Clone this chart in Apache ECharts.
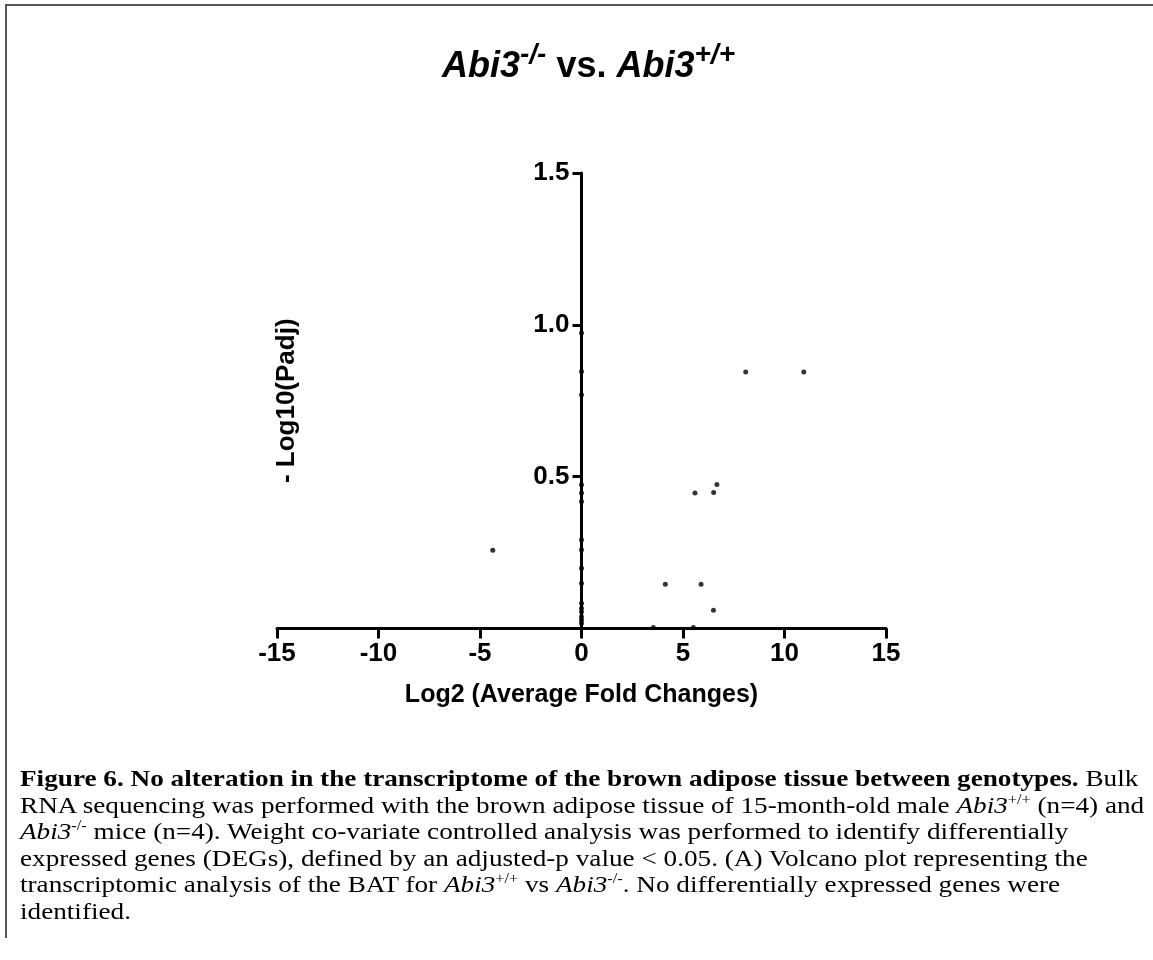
<!DOCTYPE html>
<html>
<head>
<meta charset="utf-8">
<title>Abi3 volcano plot</title>
<script src="https://cdn.jsdelivr.net/npm/echarts/dist/echarts.min.js"></script>
<style>
	html, body { margin: 0; padding: 0; background: #fff; }
	#page { position: relative; width: 1153px; height: 960px; }
	#chart { position: absolute; left: 0; top: 0; width: 1153px; height: 960px; }
	#frame {
		position: absolute; left: 5px; top: 4px; width: 1148px; height: 932px;
		border-top: 2px solid #555; border-left: 2px solid #555;
	}
	/* the caption in the figure is a little stretched sideways, so scale it to match */
	#caption {
		position: absolute; left: 20px; top: 765px;
		font-family: 'Liberation Serif', 'Times New Roman', serif;
		font-size: 24px; line-height: 26.6px; color: #000; white-space: nowrap;
		transform: scaleX(1.133); transform-origin: 0 0;
	}
	#caption sup { font-size: 0.6em; line-height: 0; vertical-align: 0.6em; }
</style>
</head>
<body>
<div id="page">
	<div id="frame"></div>
	<div id="chart"></div>
	<div id="caption">
		<b>Figure 6. No alteration in the transcriptome of the brown adipose tissue between genotypes.</b> Bulk<br>
		RNA sequencing was performed with the brown adipose tissue of 15-month-old male <i>Abi3</i><sup>+/+</sup> (n=4) and<br>
		<i>Abi3</i><sup>-/-</sup> mice (n=4). Weight co-variate controlled analysis was performed to identify differentially<br>
		expressed genes (DEGs), defined by an adjusted-p value &lt; 0.05. (A) Volcano plot representing the<br>
		transcriptomic analysis of the BAT for <i>Abi3</i><sup>+/+</sup> vs <i>Abi3</i><sup>-/-</sup>. No differentially expressed genes were<br>
		identified.
	</div>
</div>
<script>
// genes: log2 fold change vs -log10(padj)
var log2FC = [8.09, 10.95, 6.67, 5.59, 6.51, 4.13, 5.89, 6.50, -4.37, 3.54, 5.51,
	0, 0, 0, 0, 0, 0, 0, 0, 0, 0, 0, 0, 0, 0, 0, 0];
var negLog10Padj = [0.845, 0.845, 0.474, 0.446, 0.448, 0.146, 0.146, 0.060, 0.258, 0.003, 0.003,
	0.973, 0.846, 0.770, 0.473, 0.446, 0.418, 0.292, 0.259, 0.198, 0.149, 0.083, 0.067, 0.055, 0.039, 0.028, 0.017];

var xTicks = [-15, -10, -5, 0, 5, 10, 15];
var yTicks = [0, 0.5, 1.0, 1.5];

var points = log2FC.map(function (x, i) { return [x, negLog10Padj[i]]; });

var sans = "'Liberation Sans', Arial, sans-serif";

var myChart = echarts.init(document.getElementById('chart'));
var option = {
	animation: false,
	title: {
		text: '{i|Abi3}{sup|-/-}{n| vs. }{i|Abi3}{sup|+/+}',
		left: 437,
		top: 36,
		textStyle: {
			rich: {
				i: { fontFamily: sans, fontSize: 36, fontWeight: 'bold', fontStyle: 'italic', color: '#000', lineHeight: 44, verticalAlign: 'bottom' },
				n: { fontFamily: sans, fontSize: 36, fontWeight: 'bold', color: '#000', lineHeight: 44, verticalAlign: 'bottom' },
				sup: { fontFamily: sans, fontSize: 28, fontWeight: 'bold', fontStyle: 'italic', color: '#000', lineHeight: 26, verticalAlign: 'top' }
			}
		}
	},
	// plot area: x -15..15 spans 277..886 px, y 0..1.5 spans 628.5..173 px
	grid: { left: 277, right: 267, top: 173, bottom: 331.5, outerBoundsMode: 'none', containLabel: false },
	xAxis: {
		type: 'value',
		min: xTicks[0],
		max: xTicks[xTicks.length - 1],
		interval: 5,
		name: 'Log2 (Average Fold Changes)',
		nameLocation: 'middle',
		nameGap: 54,
		nameTextStyle: { fontFamily: sans, fontSize: 25, fontWeight: 'bold', color: '#000' },
		axisLine: { onZero: true, lineStyle: { color: '#000', width: 3 } },
		axisTick: { length: 10, lineStyle: { color: '#000', width: 3 } },
		axisLabel: { fontFamily: sans, fontSize: 26, fontWeight: 'bold', color: '#000', margin: 12 },
		splitLine: { show: false }
	},
	yAxis: {
		type: 'value',
		min: yTicks[0],
		max: yTicks[yTicks.length - 1],
		interval: 0.5,
		// move the whole y axis (line, ticks, labels, name) in to x = 0
		offset: -304.5,
		name: '- Log10(Padj)',
		nameLocation: 'middle',
		nameGap: 282,
		nameTextStyle: { fontFamily: sans, fontSize: 26, fontWeight: 'bold', color: '#000' },
		axisLine: { show: true, onZero: false, lineStyle: { color: '#000', width: 3 } },
		axisTick: { show: true, length: 9, lineStyle: { color: '#000', width: 3 } },
		axisLabel: {
			showMinLabel: false,
			fontFamily: sans, fontSize: 26, fontWeight: 'bold', color: '#000', margin: 12,
			formatter: function (v) { return v.toFixed(1); }
		},
		splitLine: { show: false }
	},
	series: [{
		type: 'scatter',
		data: points,
		symbol: 'circle',
		symbolSize: 5,
		itemStyle: { color: '#000' }
	}]
};
myChart.setOption(option);
</script>
</body>
</html>
